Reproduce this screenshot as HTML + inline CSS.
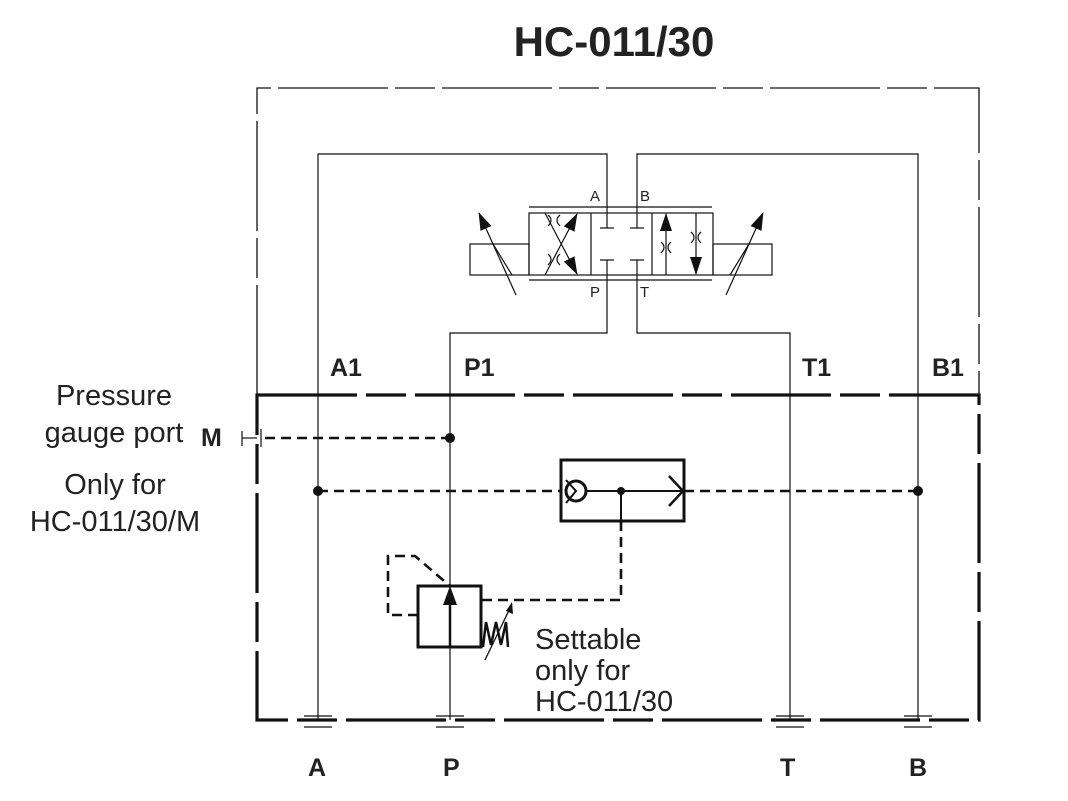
<!DOCTYPE html>
<html><head><meta charset="utf-8"><style>
html,body{margin:0;padding:0;background:#fff;}
svg{display:block;}
text{font-family:"Liberation Sans",sans-serif;fill:#222;}
</style></head><body>
<svg width="1068" height="801" viewBox="0 0 1068 801" xmlns="http://www.w3.org/2000/svg">
<defs>
<marker id="ahb" markerWidth="18" markerHeight="12" refX="17" refY="6" orient="auto" markerUnits="userSpaceOnUse"><path d="M0,0 L18,6 L0,12 z" fill="#111"/></marker>
</defs>
<text x="614" y="56" font-size="42" font-weight="bold" text-anchor="middle" fill="#111">HC-011/30</text>

<path d="M257,395 V88 H979 V395" fill="none" stroke="#111" stroke-width="1.3" stroke-dasharray="110 7 40 7"/>
<path d="M257,395 H979 V720 H257 Z" fill="none" stroke="#111" stroke-width="3.2" stroke-dasharray="100 9 40 9"/>

<g fill="none" stroke="#111" stroke-width="1.2">
<path d="M318,720 V154 H607 V213"/>
<path d="M918,720 V154 H637 V213"/>
<path d="M450,720 V333 H607 V275"/>
<path d="M790,720 V333 H637 V275"/>
<rect x="529" y="213" width="184" height="62"/>
<line x1="591" y1="213" x2="591" y2="275"/>
<line x1="652" y1="213" x2="652" y2="275"/>
<line x1="529" y1="207" x2="712" y2="207"/>
<line x1="529" y1="280" x2="712" y2="280"/>
<rect x="470" y="244" width="59" height="31"/>
<rect x="713" y="244" width="59" height="31"/>
<line x1="607" y1="228" x2="607" y2="213"/><line x1="600" y1="228" x2="614" y2="228"/>
<line x1="637" y1="228" x2="637" y2="213"/><line x1="630" y1="228" x2="644" y2="228"/>
<line x1="600" y1="260" x2="614" y2="260"/><line x1="607" y1="260" x2="607" y2="275"/>
<line x1="630" y1="260" x2="644" y2="260"/><line x1="637" y1="260" x2="637" y2="275"/>
<line x1="545" y1="275" x2="577" y2="214" marker-end="url(#ahb)"/>
<line x1="545" y1="213" x2="577" y2="274" marker-end="url(#ahb)"/>
<path d="M548,215 q6,5 0,11"/><path d="M560,215 q-6,5 0,11"/>
<path d="M548,254 q6,5 0,11"/><path d="M560,254 q-6,5 0,11"/>
<line x1="666" y1="275" x2="666" y2="214" marker-end="url(#ahb)"/>
<line x1="696" y1="213" x2="696" y2="274" marker-end="url(#ahb)"/>
<path d="M661,242 q6,5 0,11"/><path d="M671,242 q-6,5 0,11"/>
<path d="M691,232 q6,5 0,11"/><path d="M701,232 q-6,5 0,11"/>
<line x1="516" y1="295" x2="479" y2="213" marker-end="url(#ahb)"/>
<line x1="493" y1="244" x2="512" y2="275"/>
<line x1="726" y1="295" x2="763" y2="213" marker-end="url(#ahb)"/>
<line x1="749" y1="244" x2="730" y2="275"/>
<line x1="242" y1="431" x2="242" y2="446"/>
<line x1="242" y1="438" x2="257" y2="438"/>
<line x1="261" y1="429" x2="261" y2="447"/>
<line x1="304" y1="716" x2="332" y2="716"/><line x1="304" y1="727" x2="332" y2="727"/>
<line x1="436" y1="716" x2="464" y2="716"/><line x1="436" y1="727" x2="464" y2="727"/>
<line x1="776" y1="716" x2="804" y2="716"/><line x1="776" y1="727" x2="804" y2="727"/>
<line x1="904" y1="716" x2="932" y2="716"/><line x1="904" y1="727" x2="932" y2="727"/>
</g>
<text x="590" y="201" font-size="15">A</text>
<text x="640" y="201" font-size="15">B</text>
<text x="590" y="297" font-size="15">P</text>
<text x="640" y="297" font-size="15">T</text>

<g fill="none" stroke="#111" stroke-width="2.6" stroke-dasharray="10 6">
<line x1="265" y1="438" x2="450" y2="438"/>
<line x1="318" y1="491" x2="560" y2="491"/>
<line x1="684" y1="491" x2="918" y2="491"/>
<path d="M621,521 V600 H481"/>
<path d="M418,615 H388 V556 H415 L450,586"/>
</g>
<circle cx="450" cy="438" r="5" fill="#111"/>
<circle cx="318" cy="491" r="5" fill="#111"/>
<circle cx="918" cy="491" r="5" fill="#111"/>

<g fill="none" stroke="#111" stroke-width="3">
<rect x="561" y="460" width="123" height="61"/>
<circle cx="576" cy="491" r="10"/>
<path d="M566,480 L576,491 L566,503" stroke-width="2"/>
<path d="M669,476 L683,491 L669,506" stroke-width="2.5"/>
<line x1="586" y1="491" x2="683" y2="491" stroke-width="2"/>
<line x1="621" y1="491" x2="621" y2="521" stroke-width="2"/>
<rect x="418" y="586" width="63" height="61"/>
<line x1="450" y1="647" x2="450" y2="600" stroke-width="2.5"/>
</g>
<circle cx="621" cy="491" r="4" fill="#111"/>
<path d="M443,605 L450,586 L457,605 Z" fill="#111"/>
<path d="M483,647 L486,622 L491,645 L496,622 L501,645 L506,622 L508,647" fill="none" stroke="#111" stroke-width="2.5"/>
<line x1="485" y1="660" x2="512" y2="604" stroke="#111" stroke-width="1.3"/>
<path d="M512,602 L513,614 L506,611 Z" fill="#111"/>

<g font-size="25" font-weight="bold" fill="#111">
<text x="330" y="376">A1</text>
<text x="464" y="376">P1</text>
<text x="802" y="376">T1</text>
<text x="932" y="376">B1</text>
<text x="308" y="776">A</text>
<text x="443" y="776">P</text>
<text x="780" y="776">T</text>
<text x="909" y="776">B</text>
<text x="201" y="446">M</text>
</g>
<g font-size="29" fill="#222">
<text x="114" y="405" text-anchor="middle">Pressure</text>
<text x="114" y="442" text-anchor="middle">gauge port</text>
<text x="115" y="494" text-anchor="middle">Only for</text>
<text x="115" y="531" text-anchor="middle">HC-011/30/M</text>
<text x="535" y="649">Settable</text>
<text x="535" y="680">only for</text>
<text x="535" y="711">HC-011/30</text>
</g>
</svg>
</body></html>
